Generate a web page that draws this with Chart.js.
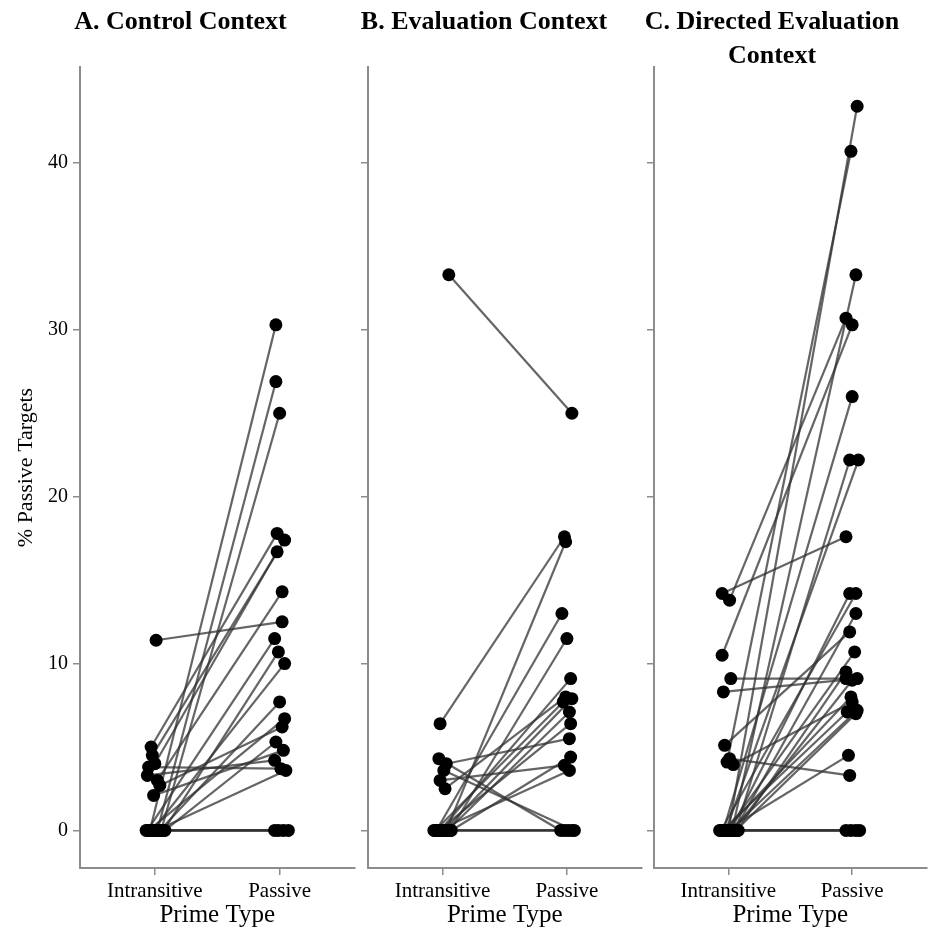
<!DOCTYPE html>
<html>
<head>
<meta charset="utf-8">
<script src="https://cdn.jsdelivr.net/npm/chart.js@4.4.1/dist/chart.umd.min.js"></script>
<style>
  body { margin: 0; background: #fff; }
  #wrap { position: relative; width: 933px; height: 928px; overflow: hidden; }
  canvas { position: absolute; top: 0; }
</style>
</head>
<body>
<div id="wrap">
  <canvas id="ctrlChart" width="361" height="928" style="left:0px"></canvas>
  <canvas id="evalChart" width="328" height="928" style="left:320px"></canvas>
  <canvas id="dirChart" width="322" height="928" style="left:611px"></canvas>
</div>
<script>
// labels
var xLabels = ['Intransitive', 'Passive'];
var yTicks = [0, 10, 20, 30, 40];
var titleA = 'A. Control Context';
var titleB = 'B. Evaluation Context';
var titleC = ['C. Directed Evaluation', 'Context'];

// A. control context : one value per participant, intransitive prime vs passive prime
var ctrlIntr = [0, 0, 0, 5.0, 4.5, 4.0, 3.0, 11.4, 0, 0, 0, 0, 0, 2.7, 0, 2.1, 3.3, 3.8, 0, 0, 0, 0, 0];
var ctrlPass = [30.3, 26.9, 25.0, 17.8, 17.4, 16.7, 14.3, 12.5, 11.5, 10.7, 10.0, 7.7, 6.7, 6.2, 5.3, 4.8, 4.2, 3.7, 3.6, 0, 0, 0, 0];
// horizontal jitter (category units)
var ctrlJitI = [-0.04, 0.02, 0.05, -0.03, -0.02, 0.00, 0.02, 0.01, -0.06, 0.07, -0.02, 0.04, -0.05, 0.04, 0.08, -0.01, -0.06, -0.05, 0.01, -0.07, 0.03, -0.01, 0.06];
var ctrlJitP = [-0.03, -0.03, 0.00, -0.02, 0.04, -0.02, 0.02, 0.02, -0.04, -0.01, 0.04, 0.00, 0.04, 0.02, -0.03, 0.03, -0.04, 0.01, 0.05, -0.04, -0.01, 0.03, 0.07];

// B. evaluation context
var evalIntr = [33.3, 6.4, 0, 0, 0, 0, 2.5, 0, 0, 0, 0, 4.0, 0, 3.0, 0, 4.3, 3.6, 0, 0, 0];
var evalPass = [25.0, 17.6, 17.3, 13.0, 11.5, 9.1, 8.0, 7.9, 7.7, 7.1, 6.4, 5.5, 4.4, 3.9, 3.6, 0, 0, 0, 0, 0];
var evalJitI = [0.05, -0.02, 0.03, -0.05, 0.06, -0.02, 0.02, 0.01, -0.06, 0.04, -0.03, 0.03, 0.07, -0.02, -0.04, -0.03, 0.01, -0.07, 0.00, 0.05];
var evalJitP = [0.04, -0.02, -0.01, -0.04, 0.00, 0.03, -0.01, 0.04, -0.03, 0.02, 0.03, 0.02, 0.03, -0.02, 0.02, -0.05, 0.06, -0.02, 0.01, 0.04];

// C. directed evaluation context
var dirIntr = [0, 4.1, 0, 13.8, 10.5, 0, 0, 0, 14.2, 0, 0, 0, 5.1, 0, 0, 9.1, 8.3, 0, 0, 3.95, 0, 0, 0, 0, 4.3, 0, 0, 0, 0];
var dirPass = [43.4, 40.7, 33.3, 30.7, 30.3, 26.0, 22.2, 22.2, 17.6, 14.2, 14.2, 13.0, 11.9, 10.7, 9.5, 9.1, 9.1, 9.0, 8.0, 7.7, 7.2, 7.1, 7.0, 4.5, 3.3, 0, 0, 0, 0];
var dirJitI = [0.00, -0.01, 0.03, 0.01, -0.05, -0.04, 0.06, -0.02, -0.05, 0.02, -0.06, 0.05, -0.03, -0.01, 0.07, 0.02, -0.04, 0.04, -0.03, 0.04, 0.01, -0.05, 0.06, -0.02, 0.01, -0.07, 0.03, 0.08, -0.01];
var dirJitP = [0.04, -0.01, 0.03, -0.05, 0.00, 0.00, -0.02, 0.05, -0.05, -0.02, 0.03, 0.03, -0.02, 0.02, -0.05, -0.05, 0.04, 0.00, -0.01, 0.00, 0.04, -0.04, 0.03, -0.03, -0.02, -0.05, -0.01, 0.03, 0.06];

var serif = '"Liberation Serif", "DejaVu Serif", serif';
var axisGrey = '#8c8c8c';

// one panel = one chart; lines first, dots on top
function panelChart(canvasId, title, intr, pass, jitI, jitP, yAxisWidth, showYLabels) {
    var datasets = [];
    var dots = [];
    for (var i = 0; i < intr.length; i++) {
        var a = {x: 1 + jitI[i], y: intr[i]};
        var b = {x: 2 + jitP[i], y: pass[i]};
        datasets.push({
            data: [a, b],
            showLine: true,
            borderColor: 'rgba(50,50,50,0.75)',
            borderWidth: 2.2,
            pointRadius: 0,
            order: 2
        });
        dots.push(a);
        dots.push(b);
    }
    datasets.push({
        data: dots,
        backgroundColor: '#000',
        borderColor: '#000',
        borderWidth: 0,
        pointRadius: 6.5,
        order: 1
    });

    var multiLine = Array.isArray(title);
    var ctx = document.getElementById(canvasId).getContext('2d');
    var myChart = new Chart(ctx, {
        type: 'scatter',
        data: { datasets: datasets },
        options: {
            responsive: false,
            animation: false,
            events: [],
            layout: { padding: 0 },
            plugins: {
                legend: { display: false },
                tooltip: { enabled: false },
                title: {
                    display: true,
                    text: title,
                    color: '#000',
                    font: { family: serif, size: 26, weight: 'bold', lineHeight: 1.32 },
                    padding: { top: 5, bottom: multiLine ? -6.6 : 27.7 }
                }
            },
            scales: {
                x: {
                    type: 'linear',
                    min: 0.4,
                    max: 2.6,
                    afterBuildTicks: function (scale) {
                        scale.ticks = [{value: 1}, {value: 2}];
                    },
                    afterFit: function (scale) { scale.height = 60; },
                    ticks: {
                        color: '#000',
                        padding: 4,
                        font: { family: serif, size: 21 },
                        callback: function (v) { return xLabels[v - 1]; }
                    },
                    grid: { drawOnChartArea: false, drawTicks: true, tickLength: 7, color: axisGrey, lineWidth: 1.5 },
                    border: { display: true, color: axisGrey, width: 2 },
                    title: {
                        display: true,
                        text: 'Prime Type',
                        color: '#000',
                        font: { family: serif, size: 25, lineHeight: 1 },
                        padding: 0
                    }
                },
                y: {
                    type: 'linear',
                    min: -2.25,
                    max: 45.75,
                    afterBuildTicks: function (scale) {
                        scale.ticks = yTicks.map(function (v) { return {value: v}; });
                    },
                    afterFit: function (scale) { scale.width = yAxisWidth; },
                    ticks: {
                        display: showYLabels,
                        color: '#000',
                        padding: 5,
                        font: { family: serif, size: 20 }
                    },
                    grid: { drawOnChartArea: false, drawTicks: true, tickLength: 7, color: axisGrey, lineWidth: 1.5 },
                    border: { display: true, color: axisGrey, width: 2 },
                    title: {
                        display: showYLabels,
                        text: '% Passive Targets',
                        color: '#000',
                        font: { family: serif, size: 22, lineHeight: 1 },
                        padding: { top: 15, bottom: 0 }
                    }
                }
            }
        }
    });
    return myChart;
}

panelChart('ctrlChart', titleA, ctrlIntr, ctrlPass, ctrlJitI, ctrlJitP, 80, true);
panelChart('evalChart', titleB, evalIntr, evalPass, evalJitI, evalJitP, 48, false);
panelChart('dirChart', titleC, dirIntr, dirPass, dirJitI, dirJitP, 43, false);
</script>
</body>
</html>
